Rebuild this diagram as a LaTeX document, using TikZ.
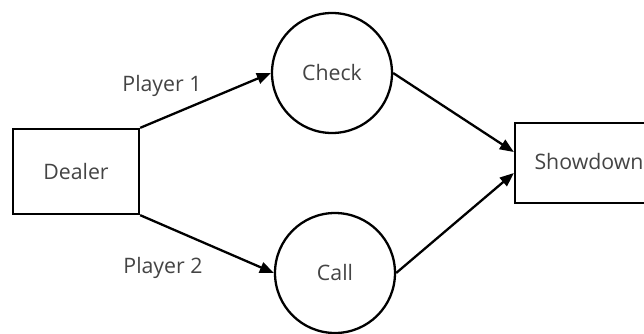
\documentclass[tikz,border=0pt]{standalone}
\usepackage{fontspec}
\setmainfont{Open Sans}
\usetikzlibrary{arrows.meta}
\definecolor{txt}{HTML}{444444}
\begin{document}
\begin{tikzpicture}[x=1pt,y=-1pt,
  lbl/.style={text=txt,font=\fontsize{21.3}{24}\selectfont},
  boxnode/.style={draw,line width=2.3pt,lbl,inner sep=0pt},
  circnode/.style={draw,circle,line width=2.3pt,lbl,minimum size=120pt,inner sep=0pt},
  conn/.style={line width=2.3pt,-{Triangle[length=14pt,width=11pt]}}]
\useasboundingbox (0,0) rectangle (644,333);
\node[boxnode,minimum width=126pt,minimum height=85pt] (d) at (76,171.5) {Dealer};
\node[circnode] (ch) at (332,73) {Check};
\node[circnode] (ca) at (335,273) {Call};
\node[boxnode,minimum width=150pt,minimum height=80pt] (s) at (590,163) {};
\node[lbl,anchor=west] (st) at (531,162) {Showdown};
\node[lbl] (p1) at (162,86) {Player 1};
\node[lbl] (p2) at (163,268) {Player 2};
\draw[conn] (d.north east) -- (ch.west);
\draw[conn] (d.south east) -- (ca.west);
\draw[conn] (ch.east) -- ([yshift=11pt]s.west);
\draw[conn] (ca.east) -- ([yshift=-10pt]s.west);
\end{tikzpicture}
\end{document}
